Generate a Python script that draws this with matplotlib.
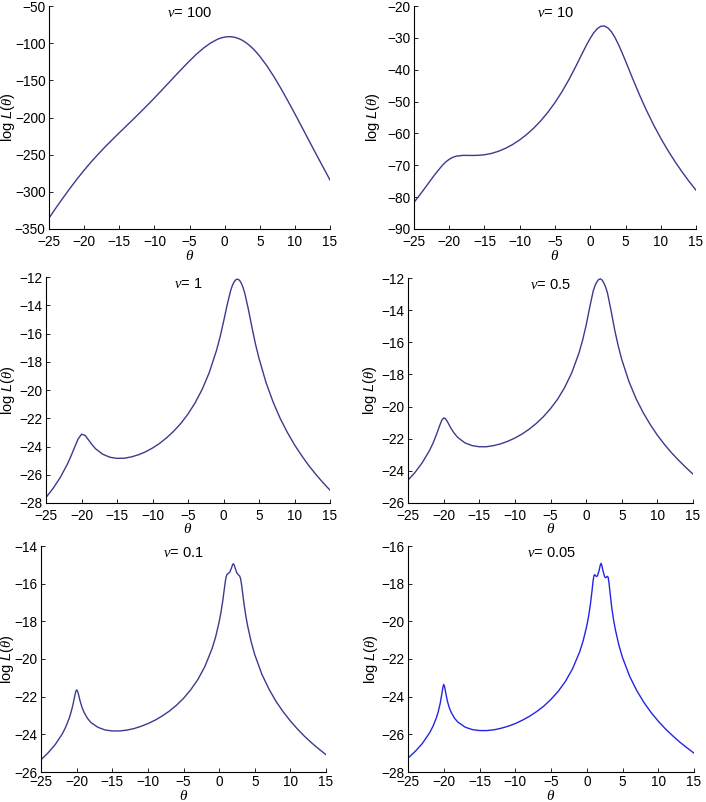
import matplotlib
matplotlib.use("Agg")
import matplotlib.pyplot as plt

plt.rcParams['font.family'] = ['Liberation Sans', 'DejaVu Sans']
plt.rcParams['mathtext.fontset'] = 'custom'
plt.rcParams['mathtext.rm'] = 'Liberation Serif'
plt.rcParams['mathtext.it'] = 'Liberation Serif:italic'
plt.rcParams['mathtext.sf'] = 'Liberation Sans:italic'

# ---------------- data ----------------
titles = ['100', '10', '1', '0.5', '0.1', '0.05']

theta_100 = [-25, -24, -23, -22, -21, -20, -19, -18, -17, -16, -15, -14, -13, -12, -11, -10,
             -9, -8, -7, -6, -5, -4, -3, -2, -1,
             -0.5, 0, 0.5, 1, 1.5, 2, 2.5, 3, 3.5, 4, 4.5,
             5, 6, 7, 8, 9, 10, 11, 12, 13, 14, 15]
logL_100 = [-335.3, -321.5, -308.1, -295.1, -282.7, -270.9, -259.8, -249.4, -239.4, -229.9,
            -220.6, -211.5, -202.3, -193.0, -183.5, -173.8, -163.8, -153.7, -143.6, -133.6,
            -123.9, -114.7, -106.6, -99.8, -94.7,
            -92.96, -91.8, -91.29, -91.4, -92.27, -93.8, -96.07, -99.0, -102.7, -107.0, -112.0,
            -117.6, -130.3, -144.8, -160.7, -177.6, -195.0, -212.9, -230.9, -248.8, -266.5,
            -284.0]

theta_10 = [-25, -24, -23, -22, -21, -20.5, -20, -19.5, -19,
            -18, -17, -16, -15, -14, -13, -12, -11, -10, -9, -8, -7, -6, -5, -4, -3, -2, -1,
            -0.5, 0, 0.5, 1, 1.5, 2, 2.5, 3, 3.5, 4, 4.5,
            5, 6, 7, 8, 9, 10, 11, 12, 13, 14, 15]
logL_10 = [-81.65, -78.78, -75.78, -72.78, -70.07, -68.97, -68.11, -67.50, -67.13,
           -66.88, -66.91, -66.89, -66.70, -66.27, -65.59, -64.65, -63.47, -62.02, -60.30,
           -58.30, -55.99, -53.33, -50.30, -46.87, -43.00, -38.75, -34.29,
           -32.12, -30.11, -28.39, -27.10, -26.37, -26.27, -26.86, -28.08, -29.86, -32.07,
           -34.58,
           -37.24, -42.71, -47.98, -52.88, -57.38, -61.50, -65.29, -68.77, -72.00, -75.01,
           -77.81]

theta_1 = [-25, -24, -23, -22,
           -21.5, -21, -20.5, -20, -19.5, -19, -18.5, -18,
           -17, -16, -15, -14, -13, -12, -11, -10, -9, -8, -7, -6, -5, -4, -3, -2, -1,
           -0.5, 0, 0.5, 1, 1.25, 1.5, 1.75, 2, 2.25, 2.5, 2.75, 3, 3.5, 4, 4.5,
           5, 6, 7, 8, 9, 10, 11, 12, 13, 14, 15]
logL_1 = [-27.61, -26.96, -26.20, -25.26,
          -24.70, -24.09, -23.49, -23.13, -23.21, -23.54, -23.88, -24.17,
          -24.55, -24.76, -24.84, -24.83, -24.74, -24.59, -24.38, -24.11, -23.78, -23.38,
          -22.91, -22.36, -21.70, -20.91, -19.95, -18.76, -17.22,
          -16.28, -15.18, -14.01, -12.97, -12.60, -12.34, -12.19, -12.15, -12.23, -12.43,
          -12.74, -13.15, -14.28, -15.54, -16.74,
          -17.76, -19.49, -20.87, -22.03, -23.01, -23.88, -24.64, -25.34, -25.97, -26.55,
          -27.09]

theta_05 = [-25, -24, -23, -22,
            -21.5, -21, -20.5, -20.25, -20, -19.75, -19.5, -19, -18.5, -18,
            -17, -16, -15, -14, -13, -12, -11, -10, -9, -8, -7, -6, -5, -4, -3, -2, -1,
            -0.5, 0, 0.5, 1, 1.25, 1.5, 1.75, 2, 2.25, 2.5, 2.75, 3, 3.5, 4, 4.5,
            5, 6, 7, 8, 9, 10, 11, 12, 13, 14, 15]
logL_05 = [-24.58, -24.09, -23.49, -22.75,
           -22.29, -21.73, -21.12, -20.85, -20.71, -20.75, -20.91, -21.33, -21.67, -21.93,
           -22.26, -22.43, -22.50, -22.50, -22.43, -22.32, -22.16, -21.96, -21.71, -21.41,
           -21.05, -20.63, -20.13, -19.54, -18.80, -17.88, -16.66,
           -15.88, -14.94, -13.83, -12.80, -12.47, -12.25, -12.10, -12.05, -12.13, -12.32,
           -12.58, -12.94, -14.03, -15.21, -16.22,
           -17.07, -18.43, -19.50, -20.37, -21.12, -21.78, -22.36, -22.88, -23.35, -23.79,
           -24.20]

theta_01 = [-25, -24, -23, -22,
            -21.5, -21, -20.75, -20.5, -20.25, -20.125, -20, -19.875, -19.75, -19.5, -19.25,
            -19, -18.5, -18,
            -17, -16, -15, -14, -13, -12, -11, -10, -9, -8, -7, -6, -5, -4, -3, -2, -1,
            -0.5, 0, 0.25, 0.5, 0.75, 0.875, 1, 1.125, 1.25, 1.5, 1.75, 1.875, 2, 2.125,
            2.25, 2.5, 2.75, 2.875, 3, 3.125, 3.25, 3.5, 3.75, 4, 4.5,
            5, 6, 7, 8, 9, 10, 11, 12, 13, 14, 15]
logL_01 = [-25.35, -24.98, -24.54, -23.97,
           -23.59, -23.10, -22.78, -22.40, -21.94, -21.73, -21.64, -21.70, -21.86, -22.25,
           -22.56, -22.80, -23.14, -23.37,
           -23.63, -23.77, -23.82, -23.82, -23.78, -23.70, -23.58, -23.43, -23.25, -23.03,
           -22.77, -22.46, -22.09, -21.64, -21.10, -20.40, -19.46,
           -18.84, -18.04, -17.54, -16.94, -16.22, -15.87, -15.62, -15.50, -15.47, -15.39,
           -15.15, -15.00, -14.94, -15.02, -15.17, -15.44, -15.55, -15.59, -15.72, -15.99,
           -16.35, -17.09, -17.72, -18.24, -19.09,
           -19.77, -20.81, -21.60, -22.26, -22.81, -23.29, -23.72, -24.11, -24.46, -24.78,
           -25.08]

theta_005 = [-25, -24, -23, -22,
             -21.5, -21, -20.75, -20.5, -20.25, -20.125, -20, -19.875, -19.75, -19.5, -19.25,
             -19, -18.5, -18,
             -17, -16, -15, -14, -13, -12, -11, -10, -9, -8, -7, -6, -5, -4, -3, -2, -1,
             -0.5, 0, 0.25, 0.5, 0.75, 0.875, 1, 1.125, 1.25, 1.375, 1.5, 1.75, 1.875, 2,
             2.125, 2.25, 2.5, 2.625, 2.75, 2.875, 3, 3.125, 3.25, 3.5, 3.75, 4, 4.5,
             5, 6, 7, 8, 9, 10, 11, 12, 13, 14, 15]
logL_005 = [-27.26, -26.91, -26.49, -25.93,
            -25.57, -25.09, -24.77, -24.36, -23.81, -23.51, -23.35, -23.48, -23.74, -24.22,
            -24.56, -24.80, -25.14, -25.36,
            -25.62, -25.75, -25.80, -25.80, -25.76, -25.68, -25.57, -25.43, -25.25, -25.04,
            -24.79, -24.50, -24.14, -23.72, -23.20, -22.53, -21.63,
            -21.03, -20.25, -19.75, -19.13, -18.34, -17.89, -17.58, -17.52, -17.59, -17.62,
            -17.58, -17.27, -17.04, -16.92,
            -17.05, -17.29, -17.63, -17.68, -17.66, -17.61, -17.67, -18.00, -18.45, -19.28,
            -19.92, -20.44, -21.27,
            -21.92, -22.92, -23.68, -24.31, -24.84, -25.30, -25.71, -26.07, -26.41, -26.71,
            -27.00]

xs = [theta_100, theta_10, theta_1, theta_05, theta_01, theta_005]
ys = [logL_100, logL_10, logL_1, logL_05, logL_01, logL_005]
ylims = [(-350, -50), (-90, -20), (-28, -12), (-26, -12), (-26, -14), (-28, -16)]
yticks = [list(range(-350, -49, 50)), list(range(-90, -19, 10)), list(range(-28, -11, 2)),
          list(range(-26, -11, 2)), list(range(-26, -13, 2)), list(range(-28, -15, 2))]
xticks = list(range(-25, 16, 5))

# ---------------- layout ----------------
W, H = 706, 802
boxes_px = [(49, 330, 6, 229), (414, 696, 6, 229),
            (46, 330, 277, 503), (408, 693, 278, 503),
            (41, 326, 546, 772), (408, 694, 546, 772)]
ylabel_x_px = [8, 373, 8, 370, 7, 371]
xlabel_y_px = [256, 256, 529, 529, 796, 796]
xtick_pad = [4.5, 4.5, 4.5, 4.5, 2.5, 2.5]
colors = ['#3b3b8e', '#3b3b8e', '#3b3b8e', '#3b3b8e', '#3b3b8e', '#2424e8']

fig = plt.figure(figsize=(W / 100, H / 100), dpi=100)
for i in range(6):
    l, r, t, b = boxes_px[i]
    ax = fig.add_axes([l / W, (H - b) / H, (r - l) / W, (b - t) / H])
    ax.plot(xs[i], ys[i], color=colors[i], lw=1.0)
    ax.set_xlim(-25, 15)
    ax.set_ylim(*ylims[i])
    ax.set_xticks(xticks)
    ax.set_yticks(yticks[i])
    ax.set_xticklabels([str(v).replace('-', '\u2212') for v in xticks])
    ax.set_yticklabels([str(v).replace('-', '\u2212') for v in yticks[i]])
    for s in ['top', 'right']:
        ax.spines[s].set_visible(False)
    for s in ['left', 'bottom']:
        ax.spines[s].set_linewidth(0.8)
    ax.tick_params(direction='in', length=3, width=0.6, labelsize=9.8)
    ax.tick_params(axis='x', pad=xtick_pad[i])
    ax.tick_params(axis='y', pad=2.5)
    ax.set_xlabel(r'$\theta$', fontsize=11)
    ax.set_ylabel(r'log $\mathsf{L}$(' + r'$\theta$)', fontsize=10.5)
    ax.xaxis.set_label_coords(0.5, (b - xlabel_y_px[i]) / (b - t), transform=ax.transAxes)
    ax.xaxis.label.set_va('center')
    ax.yaxis.set_label_coords((ylabel_x_px[i] - l) / (r - l), 0.5, transform=ax.transAxes)
    ax.yaxis.label.set_va('center')
    ax.text(0.5, 1.0, r'$\nu$= ' + titles[i], transform=ax.transAxes, ha='center',
            va='top', fontsize=10.5)

fig.savefig('out.png', dpi=100)
